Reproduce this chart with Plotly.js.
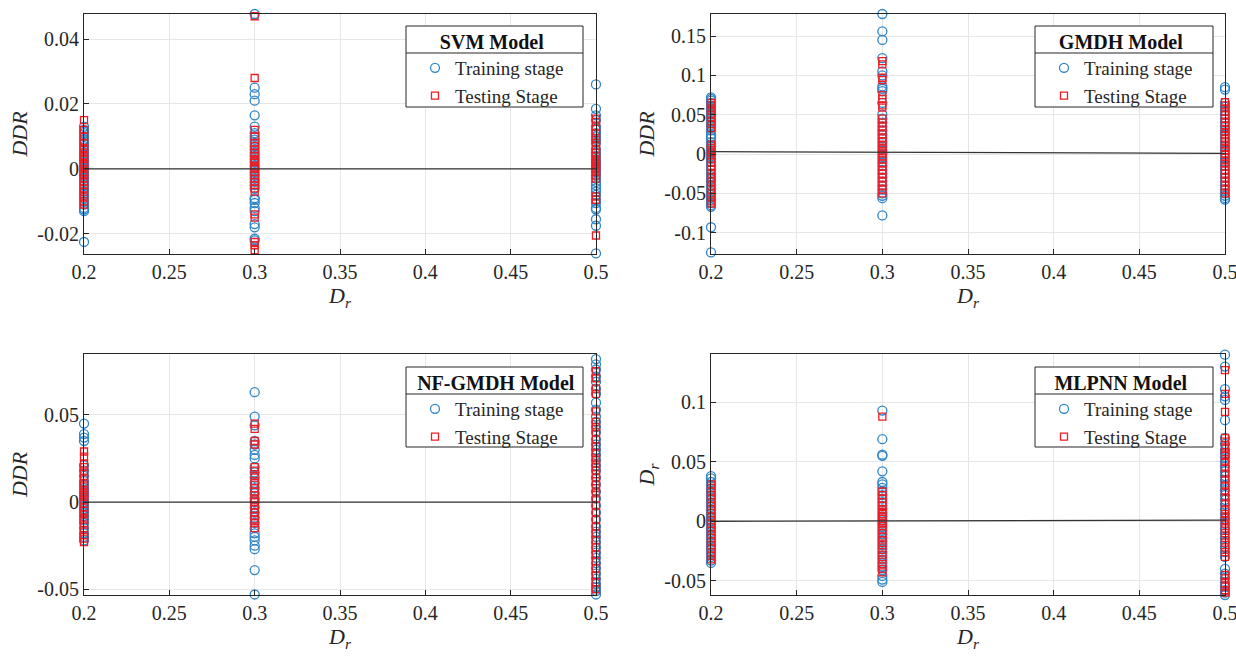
<!DOCTYPE html>
<html>
<head>
<meta charset="utf-8">
<script src="https://cdn.plot.ly/plotly-3.0.1.min.js"></script>
<style>html,body{margin:0;padding:0;background:#fff;}#chart{width:1236px;height:657px;}</style>
</head>
<body>
<div id="chart"></div>
<script>
// ---- data ----
const drValues = [0.2, 0.3, 0.5];
const fitX = [0.2, 0.5];
const xTickVals = [0.2, 0.25, 0.3, 0.35, 0.4, 0.45, 0.5];
const xTickText = ["0.2", "0.25", "0.3", "0.35", "0.4", "0.45", "0.5"];

// SVM
const svmTrain02 = [0.013,0.012,0.0115,0.011,0.01,0.009,0.0085,0.008,0.007,0.006,0.005,0.0045,0.004,0.003,0.0025,0.002,0.001,0.0005,0,-0.0005,-0.001,-0.002,-0.0025,-0.003,-0.004,-0.005,-0.006,-0.007,-0.0075,-0.008,-0.009,-0.01,-0.011,-0.012,-0.0125,-0.013,-0.0225];
const svmTest02 = [0.015,0.012,0.01,0.008,0.0065,0.006,0.005,0.004,0.0035,0.003,0.002,0.0015,0.001,0,-0.001,-0.0015,-0.002,-0.003,-0.004,-0.005,-0.006,-0.007,-0.0085,-0.01,-0.011];
const svmTrain03 = [0.0477,0.025,0.023,0.021,0.0165,0.013,0.011,0.01,0.009,0.008,0.007,0.006,0.005,0.004,0.003,0.002,0.001,0,-0.001,-0.002,-0.003,-0.004,-0.005,-0.006,-0.009,-0.0095,-0.0105,-0.012,-0.013,-0.017,-0.018,-0.0215,-0.022,-0.027];
const svmTest03 = [0.047,0.028,0.012,0.01,0.008,0.007,0.006,0.005,0.004,0.003,0.0025,0.002,0.001,0.0005,0,-0.001,-0.002,-0.003,-0.004,-0.005,-0.006,-0.007,-0.014,-0.015,-0.0225,-0.0235,-0.025];
const svmTrain05 = [0.026,0.0185,0.0165,0.015,0.013,0.012,0.011,0.01,0.009,0.008,0.006,0.005,0.004,0.003,0.002,0.001,0,-0.001,-0.002,-0.003,-0.004,-0.005,-0.006,-0.007,-0.008,-0.0095,-0.0105,-0.012,-0.0125,-0.0155,-0.0175,-0.026];
const svmTest05 = [0.0155,0.0145,0.013,0.011,0.0095,0.008,0.007,0.006,0.005,0.004,0.003,0.0025,0.002,0.0015,0.001,0.0005,0,-0.0005,-0.001,-0.002,-0.003,-0.0085,-0.0095,-0.0205];
const svmFit = [0, 0];
const svmYTickVals = [-0.02, 0, 0.02, 0.04];
const svmYTickText = ["-0.02", "0", "0.02", "0.04"];

// GMDH
const gmdhTrain02 = [0.072,0.07,0.068,0.065,0.062,0.06,0.057,0.055,0.052,0.05,0.047,0.045,0.042,0.04,0.037,0.035,0.03,0.025,0.022,0.02,0.015,0.01,0.005,0.002,0,-0.003,-0.006,-0.01,-0.015,-0.02,-0.025,-0.028,-0.032,-0.035,-0.04,-0.045,-0.048,-0.052,-0.055,-0.058,-0.062,-0.065,-0.067,-0.093,-0.125];
const gmdhTest02 = [0.065,0.062,0.058,0.055,0.05,0.046,0.042,0.038,0.033,0.012,0.008,0.005,0.002,-0.002,-0.006,-0.01,-0.015,-0.02,-0.025,-0.03,-0.035,-0.04,-0.045,-0.05,-0.055,-0.06,-0.063];
const gmdhTrain03 = [0.178,0.156,0.145,0.122,0.105,0.1,0.086,0.083,0.08,0.065,0.05,0.045,0.04,0.035,0.03,0.025,0.02,0.015,0.01,0.005,0,-0.005,-0.01,-0.015,-0.02,-0.025,-0.03,-0.035,-0.04,-0.045,-0.05,-0.053,-0.056,-0.078];
const gmdhTest03 = [0.118,0.114,0.097,0.094,0.075,0.07,0.062,0.059,0.045,0.04,0.035,0.03,0.025,0.02,0.016,0.012,0.008,0.004,0.001,-0.003,-0.007,-0.012,-0.016,-0.02,-0.025,-0.03,-0.035,-0.04,-0.045,-0.05];
const gmdhTrain05 = [0.085,0.082,0.065,0.06,0.055,0.05,0.045,0.04,0.035,0.03,0.025,0.02,0.015,0.01,0.005,0,-0.005,-0.01,-0.015,-0.02,-0.025,-0.03,-0.035,-0.04,-0.045,-0.05,-0.053,-0.056,-0.058];
const gmdhTest05 = [0.066,0.062,0.058,0.054,0.05,0.045,0.04,0.036,0.032,0.028,0.024,0.02,0.016,0.012,0.008,0.004,0,-0.004,-0.008,-0.012,-0.016,-0.02,-0.025,-0.03,-0.035,-0.04,-0.045,-0.05];
const gmdhFit = [0.003, 0.001];
const gmdhYTickVals = [-0.1, -0.05, 0, 0.05, 0.1, 0.15];
const gmdhYTickText = ["-0.1", "-0.05", "0", "0.05", "0.1", "0.15"];

// NF-GMDH
const nfTrain02 = [0.045,0.039,0.037,0.035,0.021,0.018,0.015,0.012,0.01,0.008,0.006,0.004,0.002,0,-0.002,-0.004,-0.006,-0.008,-0.01,-0.012,-0.015,-0.018,-0.02,-0.022];
const nfTest02 = [0.029,0.026,0.022,0.02,0.017,0.014,0.011,0.009,0.007,0.006,0.005,0.004,0.003,0.001,-0.001,-0.003,-0.005,-0.007,-0.01,-0.013,-0.016,-0.019,-0.021,-0.023];
const nfTrain03 = [0.063,0.049,0.044,0.035,0.033,0.03,0.027,0.025,0.02,0.017,0.014,0.011,0.008,0.005,0.002,0,-0.003,-0.006,-0.009,-0.012,-0.015,-0.018,-0.02,-0.022,-0.025,-0.027,-0.039,-0.053];
const nfTest03 = [0.045,0.042,0.035,0.033,0.02,0.018,0.015,0.012,0.01,0.008,0.006,0.004,0.002,0.001,0,-0.002,-0.004,-0.006,-0.008,-0.01,-0.012,-0.015];
const nfTrain05 = [0.086,0.082,0.079,0.076,0.072,0.069,0.065,0.062,0.057,0.053,0.049,0.046,0.043,0.04,0.036,0.033,0.03,0.027,0.024,0.021,0.018,0.014,0.01,0.006,0.002,-0.002,-0.006,-0.01,-0.014,-0.017,-0.02,-0.023,-0.026,-0.029,-0.032,-0.035,-0.038,-0.041,-0.044,-0.047,-0.049,-0.051,-0.053];
const nfTest05 = [0.075,0.071,0.065,0.062,0.052,0.046,0.043,0.04,0.036,0.032,0.028,0.025,0.022,0.02,0.018,0.016,0.014,0.012,0.01,0.008,0.005,0.002,-0.002,-0.006,-0.01,-0.014,-0.018,-0.022,-0.026,-0.03,-0.034,-0.038,-0.042,-0.046,-0.05];
const nfFit = [0, 0];
const nfYTickVals = [-0.05, 0, 0.05];
const nfYTickText = ["-0.05", "0", "0.05"];

// MLPNN
const mlTrain02 = [0.038,0.036,0.033,0.03,0.027,0.024,0.021,0.018,0.015,0.012,0.009,0.006,0.003,0,-0.003,-0.006,-0.009,-0.012,-0.015,-0.018,-0.021,-0.024,-0.027,-0.03,-0.033,-0.035];
const mlTest02 = [0.031,0.028,0.025,0.022,0.019,0.016,0.013,0.01,0.007,0.004,0.001,-0.002,-0.005,-0.008,-0.011,-0.014,-0.017,-0.02,-0.023,-0.026,-0.029,-0.032];
const mlTrain03 = [0.093,0.069,0.056,0.055,0.042,0.033,0.031,0.028,0.025,0.022,0.019,0.016,0.013,0.01,0.007,0.004,0.001,-0.002,-0.005,-0.008,-0.011,-0.014,-0.017,-0.02,-0.023,-0.026,-0.029,-0.032,-0.035,-0.038,-0.041,-0.046,-0.049,-0.051];
const mlTest03 = [0.088,0.025,0.022,0.019,0.016,0.013,0.01,0.008,0.006,0.004,0.002,0,-0.002,-0.004,-0.007,-0.01,-0.013,-0.016,-0.02,-0.024,-0.028,-0.032,-0.036,-0.04,-0.043];
const mlTrain05 = [0.14,0.13,0.111,0.105,0.102,0.085,0.07,0.065,0.06,0.057,0.054,0.05,0.046,0.042,0.038,0.034,0.03,0.026,0.022,0.018,0.014,0.01,0.006,0.002,-0.002,-0.006,-0.01,-0.014,-0.018,-0.022,-0.026,-0.03,-0.04,-0.044,-0.048,-0.052,-0.055,-0.058,-0.06,-0.062];
const mlTest05 = [0.127,0.107,0.092,0.07,0.067,0.062,0.058,0.055,0.05,0.045,0.04,0.035,0.03,0.025,0.02,0.015,0.01,0.006,0.003,0.001,-0.002,-0.006,-0.01,-0.014,-0.018,-0.022,-0.026,-0.03,-0.045,-0.048,-0.052,-0.055,-0.058,-0.06];
const mlFit = [0, 0.001];
const mlYTickVals = [-0.05, 0, 0.05, 0.1];
const mlYTickText = ["-0.05", "0", "0.05", "0.1"];

const seriesNames = ["Training stage", "Testing Stage"];
const modelTitles = ["SVM Model", "GMDH Model", "NF-GMDH Model", "MLPNN Model"];

// ---- build ----
const FONT = "Times New Roman, Liberation Serif, serif";
const BLUE = "#2f86c8";
const RED = "#ee1c24";
const traces = [];

function column(groups) {
  const x = [], y = [];
  groups.forEach((g, i) => g.forEach(v => { x.push(drValues[i]); y.push(v); }));
  return {x, y};
}

function addPanel(idx, train, test, fit) {
  const ax = idx === 0 ? "" : String(idx + 1);
  const leg = idx === 0 ? "legend" : "legend" + (idx + 1);
  const tr = column(train), te = column(test);
  traces.push({
    type: "scatter", mode: "markers", x: tr.x, y: tr.y, name: seriesNames[0],
    xaxis: "x" + ax, yaxis: "y" + ax, legend: leg, cliponaxis: false,
    marker: {symbol: "circle-open", size: 9, color: BLUE, line: {width: 1.3, color: BLUE}}
  });
  traces.push({
    type: "scatter", mode: "markers", x: te.x, y: te.y, name: seriesNames[1],
    xaxis: "x" + ax, yaxis: "y" + ax, legend: leg, cliponaxis: false,
    marker: {symbol: "square-open", size: 7, color: RED, line: {width: 1.3, color: RED}}
  });
  traces.push({
    type: "scatter", mode: "lines", x: fitX, y: fit, showlegend: false,
    xaxis: "x" + ax, yaxis: "y" + ax, legend: leg,
    line: {color: "#333333", width: 1.3}
  });
}

addPanel(0, [svmTrain02, svmTrain03, svmTrain05], [svmTest02, svmTest03, svmTest05], svmFit);
addPanel(1, [gmdhTrain02, gmdhTrain03, gmdhTrain05], [gmdhTest02, gmdhTest03, gmdhTest05], gmdhFit);
addPanel(2, [nfTrain02, nfTrain03, nfTrain05], [nfTest02, nfTest03, nfTest05], nfFit);
addPanel(3, [mlTrain02, mlTrain03, mlTrain05], [mlTest02, mlTest03, mlTest05], mlFit);

const W = 1236, H = 657;
const colX = [[84, 596], [711, 1225]];
const rowY = [[14, 254], [354, 595]];
const yRanges = [[-0.0262, 0.0477], [-0.127, 0.178], [-0.0533, 0.0849], [-0.062, 0.1406]];
const yTicks = [[svmYTickVals, svmYTickText], [gmdhYTickVals, gmdhYTickText], [nfYTickVals, nfYTickText], [mlYTickVals, mlYTickText]];
const yTitles = ["<i>DDR</i>", "<i>DDR</i>", "<i>DDR</i>", "<i>D<sub>r</sub></i>"];
// legend boxes: [left, top, right, bottom] in px
const legBox = [[406, 26, 583, 107], [1035, 26, 1213, 107], [406, 367, 583, 447], [1035, 367, 1213, 447]];

const layout = {
  width: W, height: H,
  margin: {l: 0, r: 0, t: 0, b: 0},
  paper_bgcolor: "#ffffff", plot_bgcolor: "#ffffff",
  font: {family: FONT, size: 20, color: "#262626"},
  shapes: []
};

for (let i = 0; i < 4; i++) {
  const c = colX[i % 2], r = rowY[Math.floor(i / 2)];
  const ax = i === 0 ? "" : String(i + 1);
  const axCommon = {
    showline: true, mirror: true, linecolor: "#262626", linewidth: 1,
    ticks: "inside", ticklen: 5, tickcolor: "#262626",
    showgrid: true, gridcolor: "#e6e6e6", gridwidth: 1, zeroline: false,
    ticklabeloverflow: "allow",
    tickfont: {family: FONT, size: 20, color: "#262626"}
  };
  layout["xaxis" + ax] = Object.assign({}, axCommon, {
    domain: [c[0] / W, c[1] / W], range: [0.19999, 0.50001], anchor: "y" + ax,
    tickvals: xTickVals, ticktext: xTickText,
    title: {text: "<i>D<sub>r</sub></i>", font: {family: FONT, size: 22, color: "#262626"}, standoff: 5}
  });
  layout["yaxis" + ax] = Object.assign({}, axCommon, {
    domain: [1 - r[1] / H, 1 - r[0] / H], range: yRanges[i], anchor: "x" + ax,
    tickvals: yTicks[i][0], ticktext: yTicks[i][1],
    title: {text: yTitles[i], font: {family: FONT, size: 22, color: "#262626"}, standoff: 3}
  });
  const lb = legBox[i];
  const legKey = i === 0 ? "legend" : "legend" + (i + 1);
  layout[legKey] = {
    x: (lb[0] + 9) / W, y: 1 - (lb[1] - 3) / H, xref: "paper", yref: "paper",
    xanchor: "left", yanchor: "top",
    bgcolor: "rgba(0,0,0,0)", borderwidth: 0,
    font: {family: FONT, size: 19, color: "#262626"},
    title: {text: "<b>" + modelTitles[i] + "</b>", side: "top center", font: {family: FONT, size: 20, color: "#111111"}},
    tracegroupgap: 0, itemwidth: 30
  };
  // legend frame and separator (drawn beneath the transparent legend)
  layout.shapes.push({
    type: "rect", xref: "paper", yref: "paper", layer: "above",
    x0: lb[0] / W, x1: lb[2] / W, y0: 1 - lb[3] / H, y1: 1 - lb[1] / H,
    fillcolor: "#ffffff", line: {color: "#262626", width: 1}
  });
  layout.shapes.push({
    type: "line", xref: "paper", yref: "paper", layer: "above",
    x0: lb[0] / W, x1: lb[2] / W, y0: 1 - (lb[1] + 27) / H, y1: 1 - (lb[1] + 27) / H,
    line: {color: "#262626", width: 1}
  });
}

Plotly.newPlot("chart", traces, layout, {displayModeBar: false, staticPlot: true});
</script>
</body>
</html>
